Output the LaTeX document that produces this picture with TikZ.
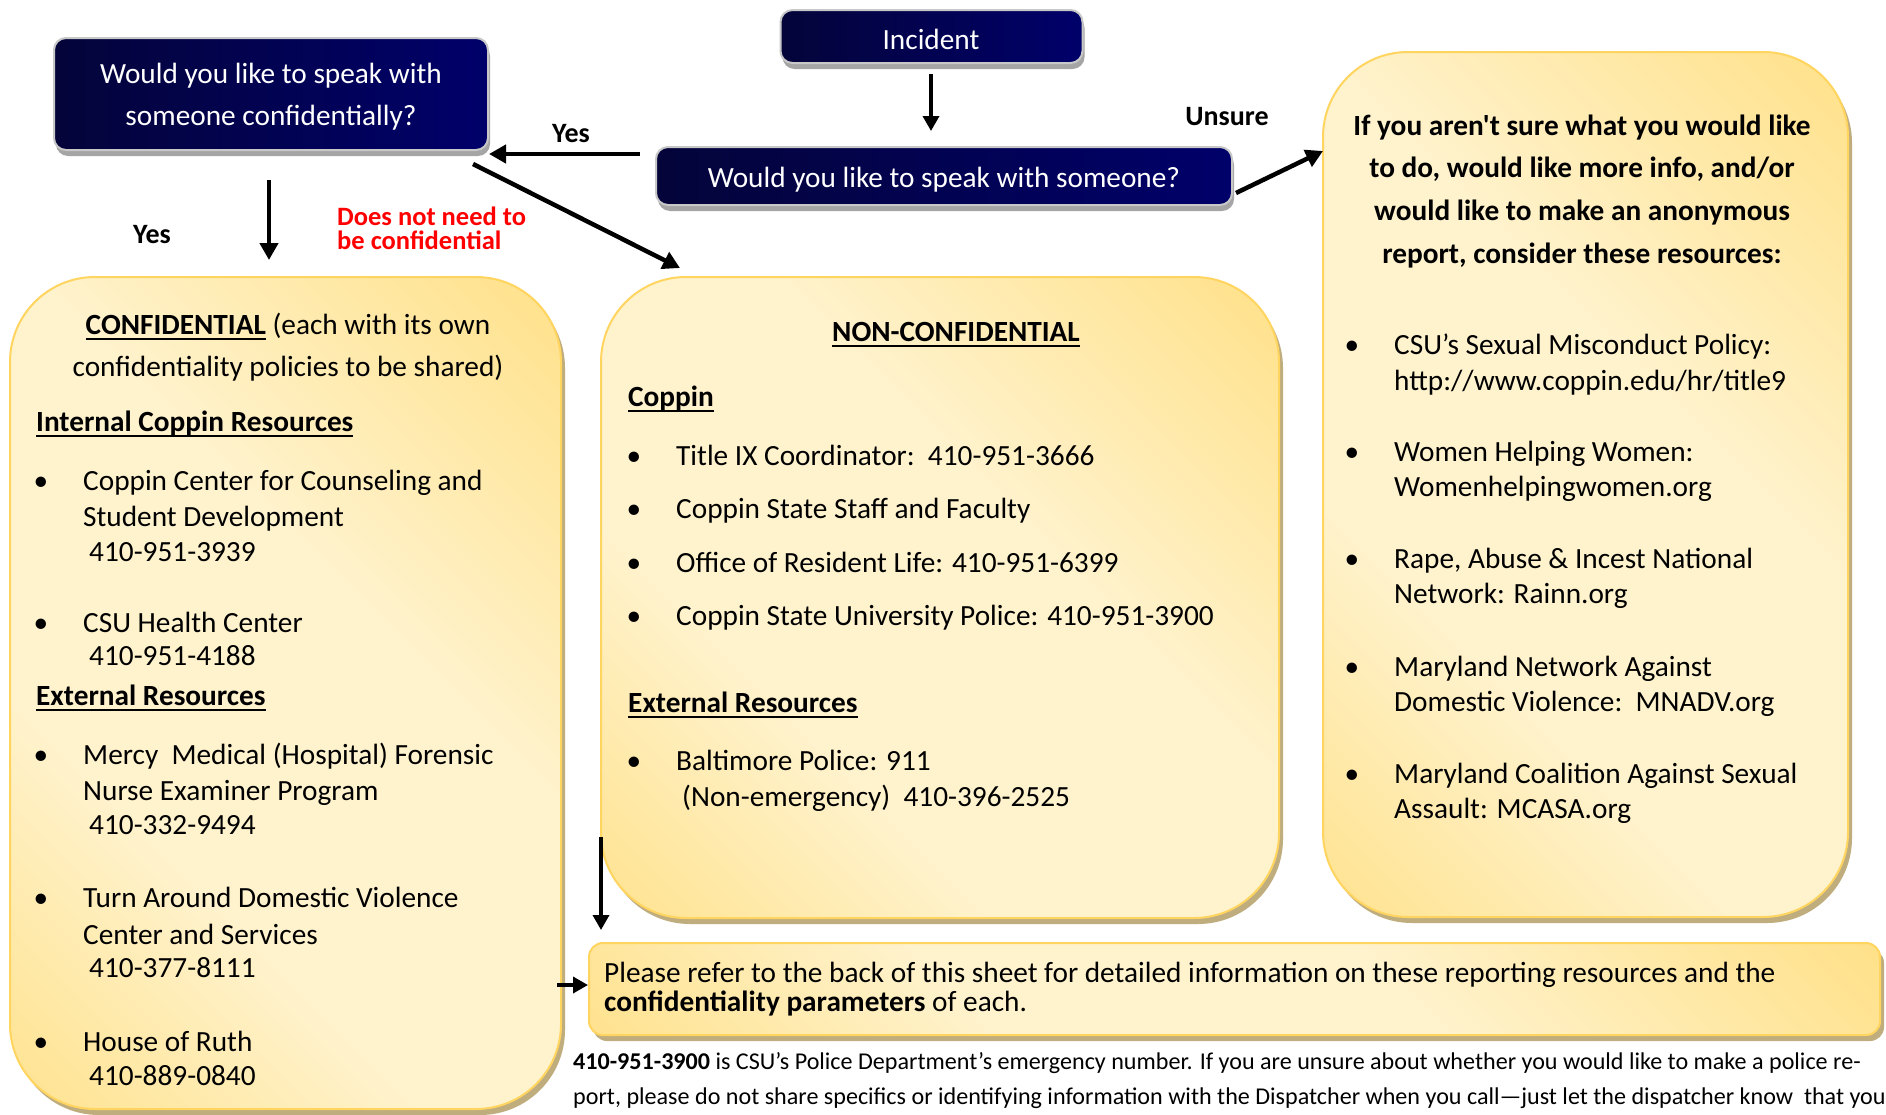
\documentclass[tikz,border=0pt]{standalone}
\usepackage{fontspec}
\setmainfont{Carlito}
\usetikzlibrary{arrows.meta,shadows}

\definecolor{navyL}{RGB}{4,4,58}
\definecolor{navyR}{RGB}{0,0,106}
\definecolor{goldD}{RGB}{255,215,100}
\definecolor{goldL}{RGB}{255,243,206}
\definecolor{goldEdge}{RGB}{255,212,95}
\definecolor{tanS}{RGB}{192,173,126}
\definecolor{grayS}{RGB}{165,165,165}
\definecolor{grayB}{RGB}{200,200,200}
\definecolor{redT}{RGB}{255,0,0}

\pgfdeclarehorizontalshading{goldband}{100bp}{color(0bp)=(goldD); color(36bp)=(goldL); color(58bp)=(goldL); color(100bp)=(goldD)}

\newsavebox\ulbox
\newcommand\myul[1]{\sbox\ulbox{#1}\rlap{\rule[-6pt]{\wd\ulbox}{2.4pt}}\usebox\ulbox}
\newcommand\bodyf{\fontsize{29.3pt}{36pt}\selectfont}
\newcommand\labf{\fontsize{28pt}{30pt}\selectfont\bfseries}
\newcommand\redf{\fontsize{26.5pt}{20.5pt}\selectfont\bfseries}
\newcommand\reff{\fontsize{29.3pt}{29pt}\selectfont}
\newcommand\notef{\fontsize{24.1pt}{35pt}\selectfont}

\tikzset{
  ybox/.style={shade, shading=goldband, shading angle=45, draw=goldEdge, line width=2pt,
    rounded corners=85pt, inner sep=0pt,
    drop shadow={shadow xshift=4pt, shadow yshift=-6pt, fill=tanS, opacity=1}},
  nbox/.style={left color=navyL, right color=navyR, draw=grayB, line width=2pt,
    rounded corners=12pt, inner sep=0pt,
    drop shadow={shadow xshift=2pt, shadow yshift=-6pt, fill=grayS, opacity=1}},
  tl/.style={inner sep=0pt, anchor=base west, font=\bodyf},
  tc/.style={inner sep=0pt, anchor=base, font=\bodyf},
  wt/.style={tc, text=white},
  bul/.style={inner sep=0pt, anchor=base, font=\bodyf},
  lab/.style={inner sep=0pt, anchor=base, font=\labf},
  redl/.style={inner sep=0pt, anchor=base west, font=\redf, text=redT},
  arr/.style={line width=4.5pt, -{Triangle[length=17pt,width=18pt]}},
  arrthin/.style={line width=3.5pt, -{Triangle[length=15pt,width=16pt]}}
}

\begin{document}
\begin{tikzpicture}[x=1pt,y=-1pt]
\useasboundingbox (0,0) rectangle (1886,1114);
\fill[white] (0,0) rectangle (1886,1114);

% yellow boxes
\node[ybox, minimum width=551pt, minimum height=832pt] (conf) at (285.5,693) {};
\node[ybox, minimum width=678pt, minimum height=641pt] (nonc) at (940,597.5) {};
\node[ybox, minimum width=525pt, minimum height=865pt] (rbox) at (1585.5,484.5) {};
\node[ybox, rounded corners=14pt, minimum width=1291pt, minimum height=92pt] (refer) at (1234.5,989) {};

% navy boxes
\node[nbox, minimum width=434pt, minimum height=112pt] (q1) at (271,94) {};
\node[nbox, minimum width=302pt, minimum height=53pt] (inc) at (931.5,36.5) {};
\node[nbox, minimum width=576pt, minimum height=58pt] (speak) at (944,176) {};

% navy texts
\node[wt] (q1a) at (271,83) {Would you like to speak with};
\node[wt] (q1b) at (271,125) {someone confidentially?};
\node[wt] (inct) at (931,49) {Incident};
\node[wt] (spt) at (944,187) {Would you like to speak with someone?};

% labels
\node[lab] (yes1) at (571,142) {Yes};
\node[lab] (yes2) at (152,243) {Yes};
\node[lab] (uns) at (1227,125) {Unsure};
\node[redl] (dn) at (337,225) {\begin{tabular}[t]{@{}l@{}}Does not need to\\be confidential\end{tabular}};

% arrows
\coordinate (incA) at (931,74);
\coordinate (incB) at (931,131);
\draw[arrthin] (incA) -- (incB);
\coordinate (yesA) at (640,154);
\draw[arr] (yesA) -- (q1.east |- yesA);
\coordinate (dgA) at (473,164);
\coordinate (dgB) at (680,268);
\draw[arr] (dgA) -- (dgB);
\coordinate (cfA) at (269,180);
\coordinate (cfB) at (269,260);
\draw[arr] (cfA) -- (cfB);
\coordinate (unA) at (1236,193);
\coordinate (unB) at (1323,151);
\draw[arr] (unA) -- (unB);
\coordinate (rfA) at (601,837);
\coordinate (rfB) at (601,930);
\draw[arrthin] (rfA) -- (rfB);
\coordinate (lfA) at (557,985);
\draw[arrthin] (lfA) -- (refer.west |- lfA);

% CONFIDENTIAL box
\node[tc] (c1) at (288,334) {\myul{\textbf{CONFIDENTIAL}} (each with its own};
\node[tc] (c2) at (288,376) {confidentiality policies to be shared)};
\node[tl] (c3) at (36,431) {\myul{\textbf{Internal Coppin Resources}}};
\node[bul] (cb1) at (41,490) {\textbullet};
\node[tl] (c4) at (83,490) {Coppin Center for Counseling and};
\node[tl] (c5) at (83,526) {Student Development};
\node[tl] (c6) at (89,561) {410-951-3939};
\node[bul] (cb2) at (41,632) {\textbullet};
\node[tl] (c7) at (83,632) {CSU Health Center};
\node[tl] (c8) at (89,665) {410-951-4188};
\node[tl] (c9) at (36,705) {\myul{\textbf{External Resources}}};
\node[bul] (cb3) at (41,764) {\textbullet};
\node[tl] (c10) at (83,764) {Mercy\ \ Medical (Hospital) Forensic};
\node[tl] (c11) at (83,800) {Nurse Examiner Program};
\node[tl] (c12) at (89,834) {410-332-9494};
\node[bul] (cb4) at (41,907) {\textbullet};
\node[tl] (c13) at (83,907) {Turn Around Domestic Violence};
\node[tl] (c14) at (83,944) {Center and Services};
\node[tl] (c15) at (89,977) {410-377-8111};
\node[bul] (cb5) at (41,1051) {\textbullet};
\node[tl] (c16) at (83,1051) {House of Ruth};
\node[tl] (c17) at (89,1085) {410-889-0840};

% NON-CONFIDENTIAL box
\node[tc] (n1) at (956,341) {\myul{\textbf{NON-CONFIDENTIAL}}};
\node[tl] (n2) at (628,406) {\myul{\textbf{Coppin}}};
\node[bul] (nb1) at (634,465) {\textbullet};
\node[tl] (n3) at (676,465) {Title IX Coordinator:\ \ 410-951-3666};
\node[bul] (nb2) at (634,518) {\textbullet};
\node[tl] (n4) at (676,518) {Coppin State Staff and Faculty};
\node[bul] (nb3) at (634,572) {\textbullet};
\node[tl] (n5) at (676,572) {Office of Resident Life: 410-951-6399};
\node[bul] (nb4) at (634,625) {\textbullet};
\node[tl] (n6) at (676,625) {Coppin State University Police: 410-951-3900};
\node[tl] (n7) at (628,712) {\myul{\textbf{External Resources}}};
\node[bul] (nb5) at (634,770) {\textbullet};
\node[tl] (n8) at (676,770) {Baltimore Police: 911};
\node[tl] (n9) at (682,806) {(Non-emergency)\ \ 410-396-2525};

% right box
\node[tc, font=\bodyf\bfseries] (r1) at (1582,135) {If you {\addfontfeatures{Ligatures=TeXOff}aren't} sure what you would like};
\node[tc, font=\bodyf\bfseries] (r2) at (1582,177) {to do, would like more info, and/or};
\node[tc, font=\bodyf\bfseries] (r3) at (1582,220) {would like to make an anonymous};
\node[tc, font=\bodyf\bfseries] (r4) at (1582,263) {report, consider these resources:};
\node[bul] (rb1) at (1352,354) {\textbullet};
\node[tl] (r5) at (1394,354) {CSU’s Sexual Misconduct Policy:};
\node[tl] (r6) at (1394,390) {http://www.coppin.edu/hr/title9};
\node[bul] (rb2) at (1352,461) {\textbullet};
\node[tl] (r7) at (1394,461) {Women Helping Women:};
\node[tl] (r8) at (1394,496) {Womenhelpingwomen.org};
\node[bul] (rb3) at (1352,568) {\textbullet};
\node[tl] (r9) at (1394,568) {Rape, Abuse \& Incest National};
\node[tl] (r10) at (1394,603) {Network: Rainn.org};
\node[bul] (rb4) at (1352,676) {\textbullet};
\node[tl] (r11) at (1394,676) {Maryland Network Against};
\node[tl] (r12) at (1394,711) {Domestic Violence:\ \ MNADV.org};
\node[bul] (rb5) at (1352,783) {\textbullet};
\node[tl] (r13) at (1394,783) {Maryland Coalition Against Sexual};
\node[tl] (r14) at (1394,818) {Assault: MCASA.org};

% refer box text
\node[tl, font=\reff] (f1) at (604,982) {Please refer to the back of this sheet for detailed information on these reporting resources and the};
\node[tl, font=\reff] (f2) at (604,1011) {\textbf{confidentiality parameters} of each.};

% note
\node[tl, font=\notef] (m1) at (573,1069) {\textbf{410-951-3900} is CSU’s Police Department’s emergency number. If you are unsure about whether you would like to make a police re-};
\node[tl, font=\notef] (m2) at (573,1104) {port, please do not share specifics or identifying information with the Dispatcher when you call—just let the dispatcher know\ \ that you};
\end{tikzpicture}
\end{document}
